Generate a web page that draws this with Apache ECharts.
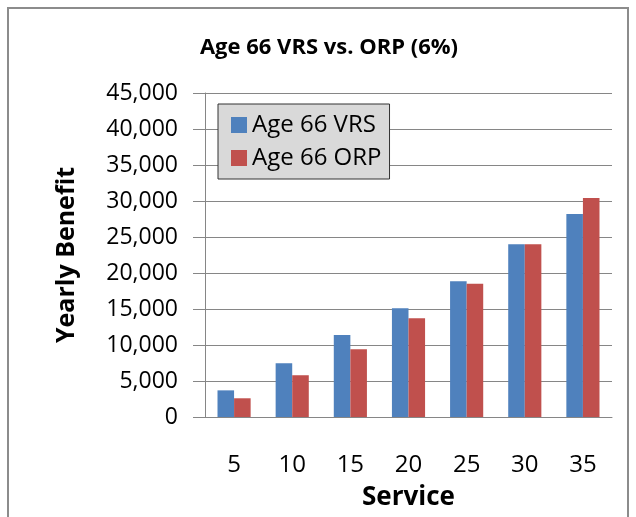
<!DOCTYPE html>
<html>
<head>
<meta charset="utf-8">
<script src="https://cdn.jsdelivr.net/npm/echarts@6/dist/echarts.min.js"></script>
<style>
    html, body { margin: 0; padding: 0; background: #fff; }
    #chart { width: 636px; height: 517px; }
</style>
</head>
<body>
<div id="chart"></div>
<script>
// 数据
const service = ['5', '10', '15', '20', '25', '30', '35']
const vrs = [3700, 7450, 11400, 15100, 18850, 24000, 28200]
const orp = [2600, 5800, 9400, 13700, 18500, 24000, 30400]
const seriesNames = ['Age 66 VRS', 'Age 66 ORP']

const font = 'Open Sans'
const chart = echarts.init(document.getElementById('chart'))

chart.setOption({
    animation: false,
    textStyle: { fontFamily: font },
    title: {
        text: 'Age 66 VRS vs. ORP (6%)',
        left: 324,
        top: 32,
        textAlign: 'center',
        textStyle: { fontSize: 22, fontWeight: 'bold', color: '#000', fontFamily: font }
    },
    legend: {
        orient: 'vertical',
        left: 218,
        top: 104,
        backgroundColor: '#d9d9d9',
        borderColor: '#333',
        borderWidth: 1,
        padding: [9, 8, 9, 13],
        itemWidth: 16,
        itemHeight: 16,
        itemGap: 9,
        icon: 'rect',
        data: seriesNames,
        textStyle: { fontSize: 24, color: '#000', fontFamily: font }
    },
    grid: { left: 205, right: 24, top: 93, bottom: 100, outerBoundsMode: 'none' },
    xAxis: {
        type: 'category',
        data: service,
        name: 'Service',
        nameLocation: 'middle',
        nameGap: 68,
        nameTextStyle: { fontSize: 26, fontWeight: 'bold', color: '#000' },
        axisLine: { lineStyle: { color: '#868686' } },
        axisTick: { length: 9, lineStyle: { color: '#868686' } },
        axisLabel: { fontSize: 24, color: '#000', margin: 36 }
    },
    yAxis: {
        type: 'value',
        min: 0,
        max: 45000,
        interval: 5000,
        name: 'Yearly Benefit',
        nameLocation: 'middle',
        nameGap: 126,
        nameTextStyle: { fontSize: 25, fontWeight: 'bold', color: '#000' },
        axisLine: { show: true, lineStyle: { color: '#868686' } },
        axisTick: { show: true, length: 12, lineStyle: { color: '#868686' } },
        splitLine: { lineStyle: { color: '#868686' } },
        axisLabel: {
            fontSize: 23,
            color: '#000',
            margin: 27,
            formatter: v => v.toLocaleString('en-US')
        }
    },
    graphic: [{
        type: 'rect',
        shape: { x: 8, y: 8, width: 620, height: 530 },
        style: { fill: null, stroke: '#8c8c8c', lineWidth: 2 },
        silent: true
    }],
    series: [
        {
            name: seriesNames[0],
            type: 'bar',
            data: vrs,
            barGap: '0%',
            barCategoryGap: '43%',
            itemStyle: { color: '#4f81bd' }
        },
        {
            name: seriesNames[1],
            type: 'bar',
            data: orp,
            itemStyle: { color: '#c0504d' }
        }
    ]
})
</script>
</body>
</html>
